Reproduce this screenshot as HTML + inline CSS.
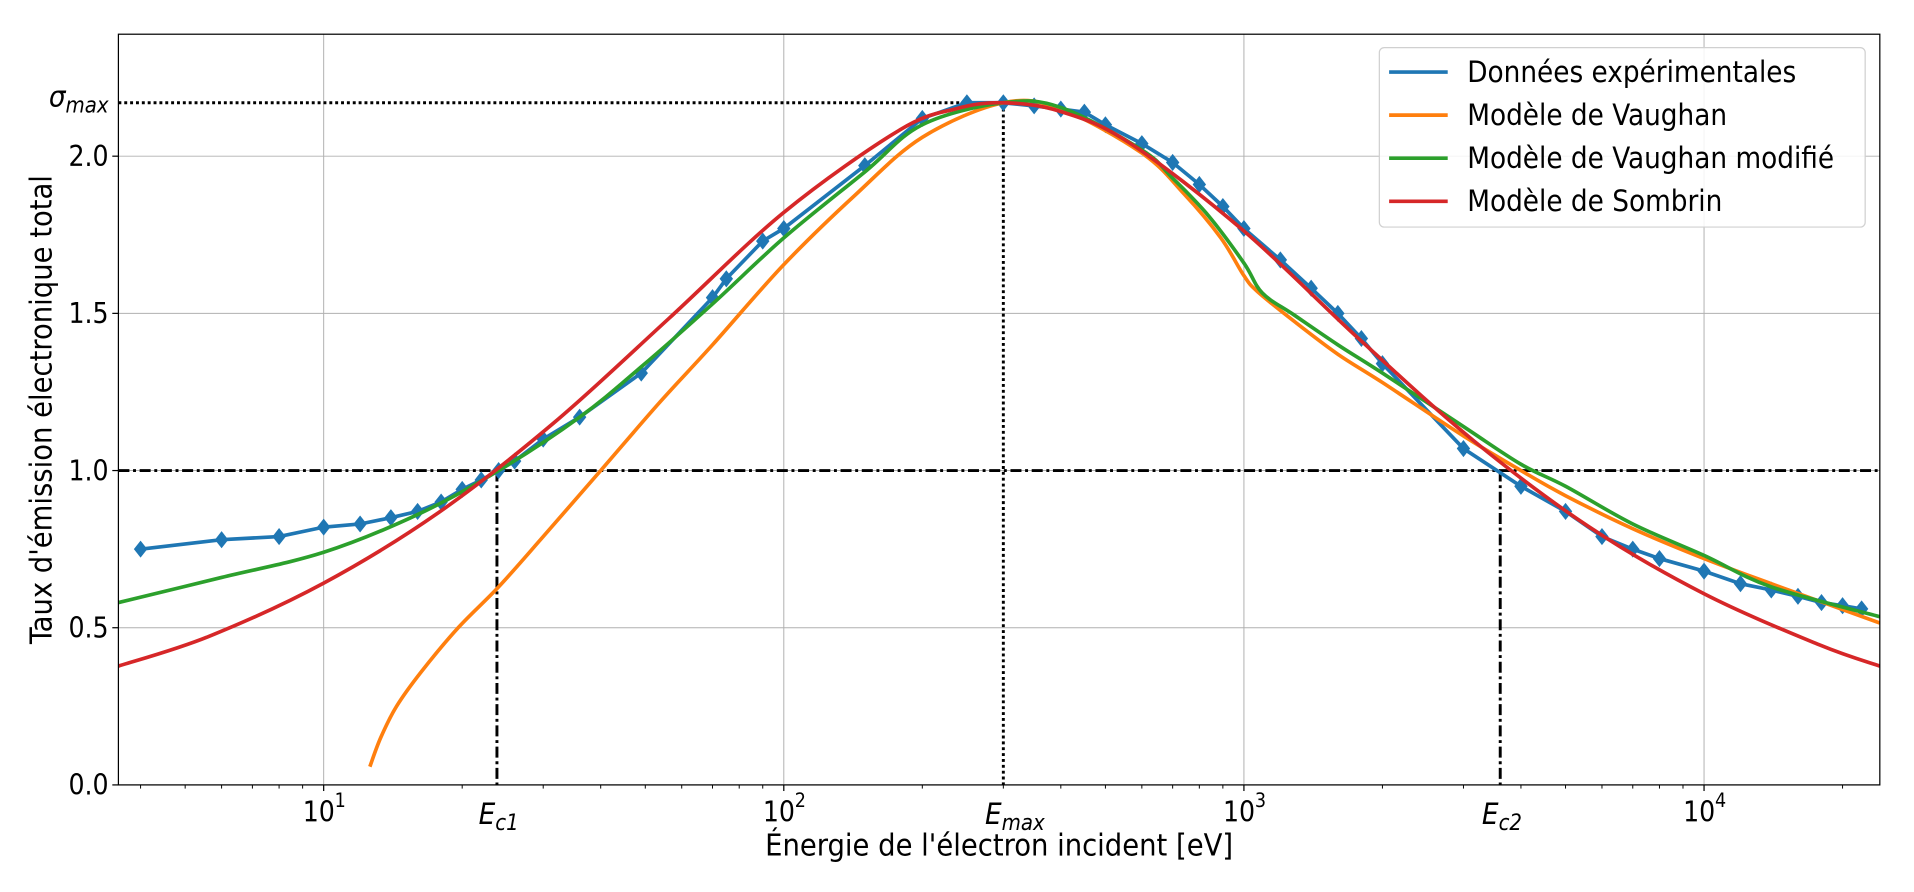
<!DOCTYPE html>
<html><head><meta charset="utf-8"><style>
html,body{margin:0;padding:0;background:#fff;}
svg{display:block;}
text{font-family:"DejaVu Sans Condensed","DejaVu Sans","Liberation Sans Narrow","Liberation Sans",sans-serif;font-stretch:condensed;fill:#000;}
</style></head><body>
<svg id="chart" width="1914" height="892" viewBox="0 0 1568 730.7" xmlns="http://www.w3.org/2000/svg">
<g id="grid"></g>
<g id="refs"></g>
<g id="series"></g>
<g id="axes"></g>
<g id="legend"></g>
</svg>
<script>
// ---- data ----
const expE = [4,6,8,10,12,14,16,18,20,22,24,26,30,36,49,70,75,90,100,150,200,250,300,350,400,450,500,600,700,800,900,1000,1200,1400,1600,1800,2000,3000,4000,5000,6000,7000,8000,10000,12000,14000,16000,18000,20000,22000];
const expY = [0.75,0.78,0.79,0.82,0.83,0.85,0.87,0.90,0.94,0.97,1.00,1.03,1.10,1.17,1.31,1.55,1.61,1.73,1.77,1.97,2.12,2.17,2.17,2.16,2.15,2.14,2.10,2.04,1.98,1.91,1.84,1.77,1.67,1.58,1.50,1.42,1.34,1.07,0.95,0.87,0.79,0.75,0.72,0.68,0.64,0.62,0.60,0.58,0.57,0.56];
const vauE = [12.6,13.3,14.4,16.3,19.6,24,30,40,53.6,70,100,142.6,200,300,400,600,741,891,1000,1069,1285,1600,2000,3000,4000,5000,7000,10000,14000,24100];
const vauY = [0.058,0.15,0.25,0.36,0.50,0.63,0.79,1.0,1.215,1.40,1.655,1.875,2.06,2.17,2.15,2.01,1.88,1.74,1.62,1.57,1.475,1.37,1.28,1.11,1.0,0.92,0.815,0.72,0.64,0.515];
const vmodE = [3.58,6,10,16,24,36,49,70,100,150,200,300,400,600,700,838,1000,1096,1285,1600,2000,3000,4000,5000,7000,10000,14000,24100];
const vmodY = [0.58,0.66,0.74,0.86,1.0,1.17,1.33,1.53,1.74,1.95,2.10,2.17,2.155,2.02,1.93,1.81,1.66,1.565,1.495,1.40,1.31,1.14,1.02,0.95,0.83,0.73,0.63,0.535];
const somE = [3.58,5.62,10,17.8,31.6,56.2,100,178,237,300,398,562,1000,1778,3162,5623,10000,17783,24100];
const somY = [0.378,0.472,0.642,0.867,1.151,1.483,1.821,2.082,2.151,2.17,2.143,2.044,1.762,1.419,1.094,0.821,0.608,0.446,0.378];
const yTicks = [0.0,0.5,1.0,1.5,2.0];
const xDecades = [1,2,3,4];
const sigmaMax = 2.17, Emax = 300, Ec1 = 23.8, Ec2 = 3606;
const legendLabels = ["Données expérimentales","Modèle de Vaughan","Modèle de Vaughan modifié","Modèle de Sombrin"];
const colors = ["#1f77b4","#ff7f0e","#2ca02c","#d62728"];

// ---- scales ----
const L=97,R=1540,T=28,B=643;
const xMinL=Math.log10(3.58), xMaxL=Math.log10(24100);
const X=e=>L+(Math.log10(e)-xMinL)/(xMaxL-xMinL)*(R-L);
const Y=v=>B-v/2.388*(B-T);
const NS="http://www.w3.org/2000/svg";
function mk(tag,attrs,parent){const el=document.createElementNS(NS,tag);for(const k in attrs)el.setAttribute(k,attrs[k]);parent.appendChild(el);return el;}
const grid=document.getElementById('grid'),refs=document.getElementById('refs'),series=document.getElementById('series'),axes=document.getElementById('axes'),legend=document.getElementById('legend');

yTicks.forEach(v=>{
  const g=mk('line',{x1:L,x2:R,y1:Y(v),y2:Y(v),stroke:'#b0b0b0','stroke-width':0.8},grid);
  
  
  mk('line',{x1:L-5,x2:L,y1:Y(v),y2:Y(v),stroke:'#000','stroke-width':1},axes);
  const t=mk('text',{x:L-8,y:Y(v)+8,'text-anchor':'end','font-size':23},axes);
  t.textContent=v.toFixed(1);
  
  
});
xDecades.forEach(d=>{
  const x=X(Math.pow(10,d));
  const g=mk('line',{x1:x,x2:x,y1:T,y2:B,stroke:'#b0b0b0','stroke-width':0.8},grid);
  
  
  mk('line',{x1:x,x2:x,y1:B,y2:B+5,stroke:'#000','stroke-width':1},axes);
  const t=mk('text',{x:x-4,y:B+30,'text-anchor':'middle','font-size':23},axes);
  t.textContent='10';
  
  
  const s=mk('text',{x:x+9,y:B+18,'font-size':16},axes);
  s.textContent=String(d);
});
for(let d=0;d<=4;d++)for(let m=2;m<=9;m++){const e=m*Math.pow(10,d);const x=X(e);if(x<L||x>R)continue;mk('line',{x1:x,x2:x,y1:B,y2:B+3,stroke:'#000','stroke-width':0.8},axes);}

mk('line',{x1:L,x2:X(Emax),y1:Y(sigmaMax),y2:Y(sigmaMax),stroke:'#000','stroke-width':2.4,'stroke-dasharray':'2.4,2.4'},refs);
mk('line',{x1:X(Emax),x2:X(Emax),y1:Y(sigmaMax),y2:B,stroke:'#000','stroke-width':2.4,'stroke-dasharray':'2.4,2.4'},refs);
mk('line',{x1:L,x2:R,y1:Y(1),y2:Y(1),stroke:'#000','stroke-width':2.4,'stroke-dasharray':'9,3,2.4,3'},refs);
mk('line',{x1:X(Ec1),x2:X(Ec1),y1:Y(1),y2:B,stroke:'#000','stroke-width':2.4,'stroke-dasharray':'9,3,2.4,3'},refs);
mk('line',{x1:X(Ec2),x2:X(Ec2),y1:Y(1),y2:B,stroke:'#000','stroke-width':2.4,'stroke-dasharray':'9,3,2.4,3'},refs);

function sub(x,y,main,subs,name){
  const t=mk('text',{x:x,y:y,'font-size':24,'font-style':'italic'},axes);
  
  
  const a=document.createElementNS(NS,'tspan');a.textContent=main;t.appendChild(a);
  const b=document.createElementNS(NS,'tspan');b.setAttribute('dy','5');b.setAttribute('font-size','18');b.textContent=subs;t.appendChild(b);
  return t;
}
sub(X(Ec1)-15,B+32,'E','c1','ec1-label');
sub(X(Emax)-15,B+32,'E','max','emax-label');
sub(X(Ec2)-15,B+32,'E','c2','ec2-label');
sub(40,Y(sigmaMax)+3,'σ','max','sigma-max-label');

function pathFrom(E,V){
  const p=E.map((e,i)=>[X(e),Y(V[i])]);
  let d='M'+p[0][0]+','+p[0][1];
  for(let i=0;i<p.length-1;i++){
    const p0=p[i-1]||p[i],p1=p[i],p2=p[i+1],p3=p[i+2]||p2;
    const c1=[p1[0]+(p2[0]-p0[0])/6,p1[1]+(p2[1]-p0[1])/6];
    const c2=[p2[0]-(p3[0]-p1[0])/6,p2[1]-(p3[1]-p1[1])/6];
    d+=' C'+c1+' '+c2+' '+p2;
  }
  return d;
}
const cp=mk('clipPath',{id:'clip'},document.getElementById('chart'));
mk('rect',{x:L,y:T,width:R-L,height:B-T},cp);
const sg=mk('g',{'clip-path':'url(#clip)'},series);
const ep=mk('polyline',{points:expE.map((e,i)=>X(e)+','+Y(expY[i])).join(' '),fill:'none',stroke:colors[0],'stroke-width':3},sg);


expE.forEach((e,i)=>{
  const x=X(e),y=Y(expY[i]);
  const m=mk('polygon',{points:`${x},${y-7} ${x+5.5},${y} ${x},${y+7} ${x-5.5},${y}`,fill:colors[0]},sg);
  
  
});
[[vauE,vauY,1,'vaughan-curve'],[vmodE,vmodY,2,'vaughan-modified-curve'],[somE,somY,3,'sombrin-curve']].forEach(([E,V,c,n])=>{
  const p=mk('path',{d:pathFrom(E,V),fill:'none',stroke:colors[c],'stroke-width':3},sg);
  
  
});

mk('rect',{x:L,y:T,width:R-L,height:B-T,fill:'none',stroke:'#000','stroke-width':1},axes);

const xt=mk('text',{x:(L+R)/2,y:701,'text-anchor':'middle','font-size':25},axes);
xt.textContent="Énergie de l'électron incident [eV]";


const yt=mk('text',{x:0,y:0,'text-anchor':'middle','font-size':25,transform:`translate(42,${(T+B)/2}) rotate(-90)`},axes);
yt.textContent="Taux d'émission électronique total";



const lb=mk('rect',{x:1130,y:39,width:398,height:147,rx:4,fill:'#fff','fill-opacity':0.85,stroke:'#d0d0d0','stroke-width':1},legend);


legendLabels.forEach((lab,i)=>{
  const y=59+i*35.3;
  const g=mk('g',{},legend);
  
  
  mk('line',{x1:1138,x2:1186,y1:y,y2:y,stroke:colors[i],'stroke-width':3},g);
  const t=mk('text',{x:1202,y:y+8,'font-size':24},g);
  t.textContent=lab;
});
</script>
</body></html>
